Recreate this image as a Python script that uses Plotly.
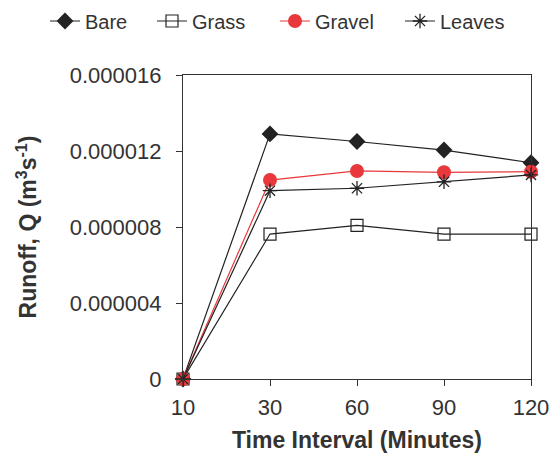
import plotly.graph_objects as go

time_labels = ["10", "30", "60", "90", "120"]
bare = [0, 12.9e-6, 12.5e-6, 12.05e-6, 11.38e-6]
grass = [0, 7.63e-6, 8.09e-6, 7.63e-6, 7.62e-6]
gravel = [0, 10.47e-6, 10.95e-6, 10.88e-6, 10.91e-6]
leaves = [0, 9.91e-6, 10.04e-6, 10.38e-6, 10.74e-6]

y_tickvals = [0, 4e-6, 8e-6, 12e-6, 16e-6]
y_ticktext = ["0", "0.000004", "0.000008", "0.000012", "0.000016"]

x_pos = list(range(len(time_labels)))

fig = go.Figure()
fig.add_trace(go.Scatter(x=x_pos, y=bare, name="Bare", mode="lines+markers",
                         line=dict(color="#222222", width=1.2), cliponaxis=False,
                         legend="legend",
                         marker=dict(symbol="diamond", size=13, color="#222222")))
fig.add_trace(go.Scatter(x=x_pos, y=grass, name="Grass", mode="lines+markers",
                         line=dict(color="#222222", width=1.2), cliponaxis=False,
                         legend="legend2",
                         marker=dict(symbol="square-open", size=12, color="#222222",
                                     line=dict(width=1.2))))
fig.add_trace(go.Scatter(x=x_pos, y=gravel, name="Gravel", mode="lines+markers",
                         line=dict(color="#e8383b", width=1.2), cliponaxis=False,
                         legend="legend3",
                         marker=dict(symbol="circle", size=14, color="#e8383b")))
fig.add_trace(go.Scatter(x=x_pos, y=leaves, name="Leaves", mode="lines+markers",
                         line=dict(color="#222222", width=1.2), cliponaxis=False,
                         legend="legend4",
                         marker=dict(symbol="asterisk-open", size=12, color="#222222",
                                     line=dict(width=1.3, color="#222222"))))

W, H = 550, 457


def leg(xpx):
    return dict(orientation="h", xref="container", x=xpx / W, xanchor="left",
                yref="container", y=1 - 13 / H, yanchor="middle", font=dict(size=20),
                borderwidth=0, bgcolor="rgba(0,0,0,0)")


fig.update_layout(
    width=W, height=H,
    margin=dict(l=175, r=27, t=67, b=86, autoexpand=False),
    paper_bgcolor="white", plot_bgcolor="white",
    font=dict(family="Liberation Sans, Arial, sans-serif", size=22, color="#333333"),
    legend=leg(37), legend2=leg(144), legend3=leg(267), legend4=leg(392),
    showlegend=True,
)
fig.update_xaxes(
    range=[0, 4], tickmode="array", tickvals=x_pos, ticktext=time_labels,
    showline=True, linecolor="#333333", linewidth=1.2, mirror=True, automargin=False,
    ticks="outside", ticklen=6, tickcolor="#333333", showgrid=False, zeroline=False,
    ticklabelstandoff=2,
    title=dict(text="<b>Time Interval (Minutes)</b>", font=dict(size=23), standoff=13),
)
fig.update_yaxes(
    range=[0, 16e-6], tickmode="array", tickvals=y_tickvals, ticktext=y_ticktext,
    showline=True, linecolor="#333333", linewidth=1.2, mirror=True, automargin=False,
    ticks="outside", ticklen=6, tickcolor="#333333", showgrid=False, zeroline=False,
    ticklabelstandoff=10,
    title=dict(text="<b>Runoff, Q (m<sup>3</sup>s<sup>-1</sup>)</b>", font=dict(size=23), standoff=26),
)

fig.write_html("out.html")
